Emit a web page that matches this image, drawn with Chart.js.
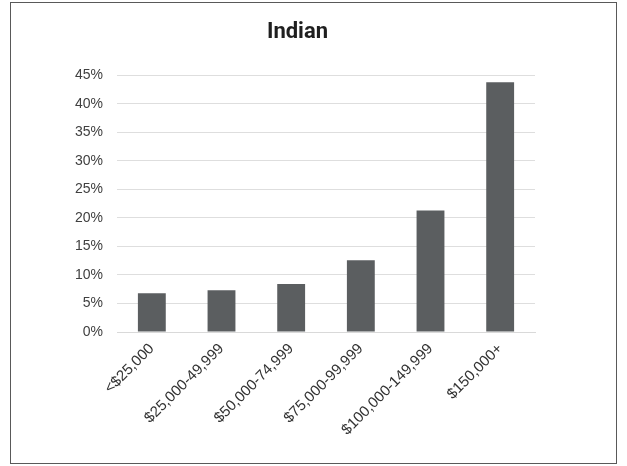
<!DOCTYPE html>
<html>
<head>
<meta charset="utf-8">
<script src="https://cdn.jsdelivr.net/npm/chart.js@4"></script>
<style>
  html, body { margin: 0; padding: 0; background: #fff; }
  #wrap { position: relative; width: 627px; height: 466px; }
  #frame { position: absolute; left: 10px; top: 2px; width: 605px; height: 460px; border: 1px solid #595959; pointer-events: none; }
</style>
</head>
<body>
<div id="wrap">
  <canvas id="incomeChart" width="627" height="466"></canvas>
  <div id="frame"></div>
</div>
<script>
const categories = ['<$25,000', '$25,000-49,999', '$50,000-74,999', '$75,000-99,999', '$100,000-149,999', '$150,000+'];
const shares = [6.8, 7.3, 8.4, 12.6, 21.3, 43.8];
const yTicks = [0, 5, 10, 15, 20, 25, 30, 35, 40, 45];

const ctx = document.getElementById('incomeChart').getContext('2d');
new Chart(ctx, {
  type: 'bar',
  data: {
    labels: categories,
    datasets: [{ label: 'Indian', data: shares, backgroundColor: '#5b5e60', barPercentage: 0.4, categoryPercentage: 1 }]
  },
  options: {
    responsive: false,
    animation: false,
    layout: { padding: { left: 60, right: 92, top: 6, bottom: 10 } },
    plugins: {
      legend: { display: false },
      tooltip: { enabled: false },
      title: { display: true, text: 'Indian', color: '#1f1f1f', font: { family: 'Roboto', size: 22, weight: 'bold' }, padding: { top: 13, bottom: 30 } }
    },
    scales: {
      y: {
        min: 0, max: 45,
        afterBuildTicks: s => { s.ticks = yTicks.map(v => ({ value: v })); },
        afterFit: s => { s.width = 57; },
        ticks: { color: '#404040', font: { family: 'Liberation Sans', size: 14 }, padding: 14, callback: v => v + '%' },
        grid: { color: '#dedede', drawTicks: false },
        border: { display: false }
      },
      x: {
        afterFit: s => { s.height = 124; },
        ticks: { color: '#333', font: { family: 'Liberation Sans', size: 15 }, minRotation: 45, maxRotation: 45, padding: 0 },
        grid: { display: false },
        border: { color: '#d9d9d9' }
      }
    }
  }
});
</script>
</body>
</html>
